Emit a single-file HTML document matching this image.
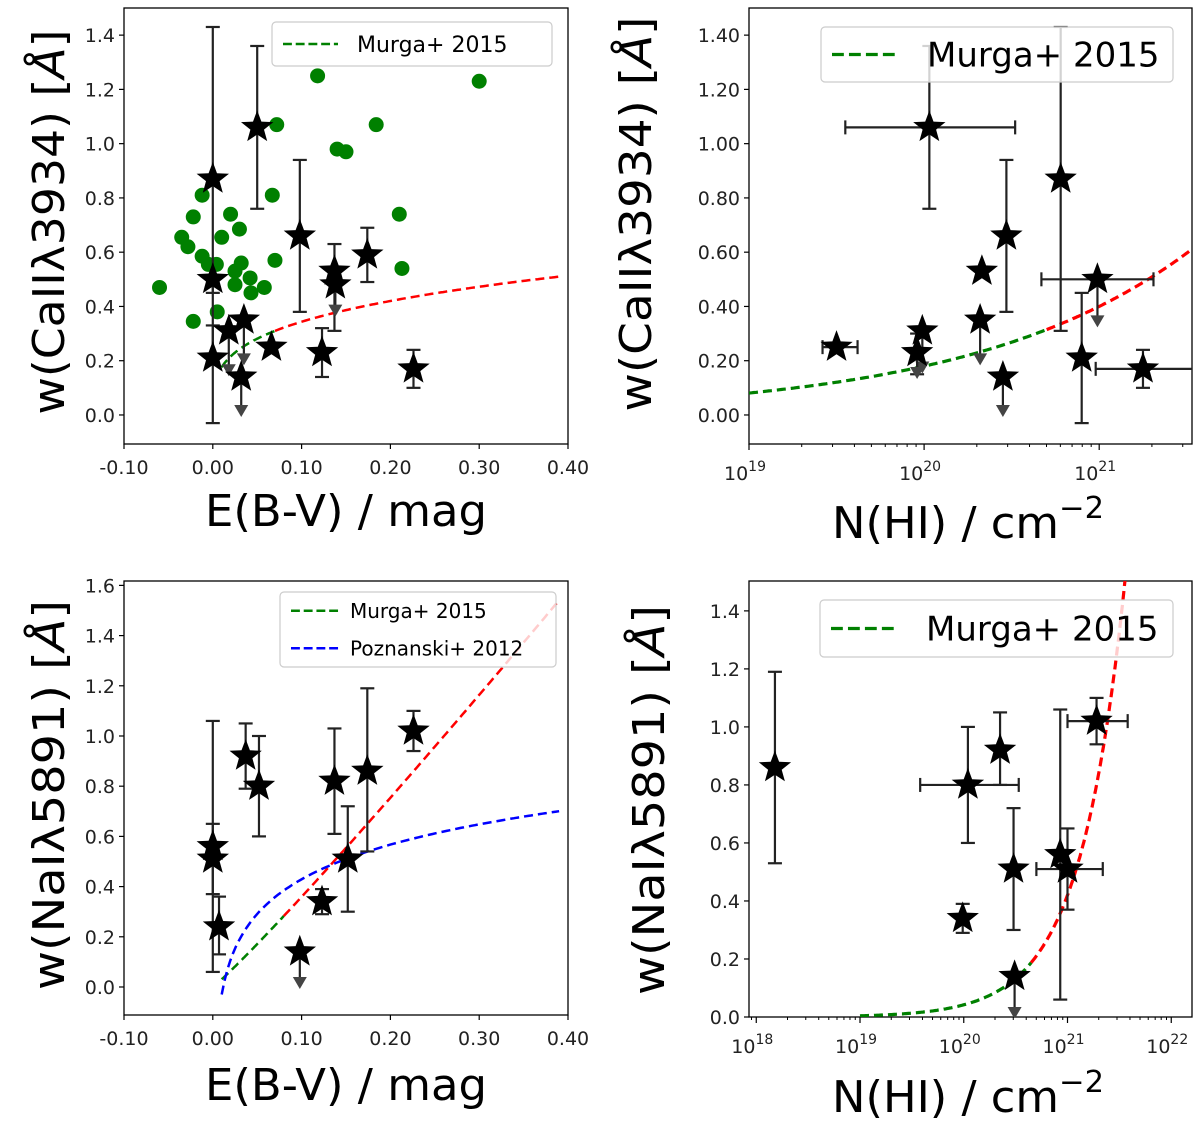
<!DOCTYPE html>
<html><head><meta charset="utf-8">
<style>
html,body{margin:0;padding:0;background:#fff;}
svg{display:block;font-family:"DejaVu Sans","Liberation Sans",sans-serif;}
</style></head>
<body>
<svg id="fig" width="1200" height="1122" viewBox="0 0 1200 1122" xmlns="http://www.w3.org/2000/svg"></svg>
<script>
// ---------- DATA ----------
// Panel A: CaII vs E(B-V)
const aStarX = [0.000,0.000,0.000,0.050,0.018,0.035,0.032,0.066,0.098,0.123,0.137,0.138,0.174,0.226];
const aStarY = [0.87,0.50,0.21,1.06,0.31,0.35,0.14,0.25,0.66,0.23,0.53,0.48,0.59,0.17];
const aErrLo = [-0.03,0.45,0.21,0.76,0.31,0.35,0.14,0.25,0.38,0.14,0.31,0.48,0.49,0.10];
const aErrHi = [1.43,0.50,0.33,1.36,0.31,0.35,0.14,0.25,0.94,0.32,0.63,0.48,0.69,0.24];
const aLimit = [0,0,0,0,1,1,1,0,0,0,0,1,0,0];
const aLimitTo = [0,0,0,0,0.15,0.19,0.00,0,0,0,0,0.37,0,0];
const aDotX = [-0.060,-0.035,-0.028,-0.022,-0.012,-0.022,-0.012,-0.005,0.004,0.005,0.010,0.020,0.030,0.025,0.032,0.025,0.042,0.043,0.058,0.067,0.070,0.072,0.118,0.140,0.150,0.184,0.210,0.213,0.300];
const aDotY = [0.47,0.655,0.62,0.73,0.81,0.345,0.585,0.555,0.555,0.38,0.655,0.74,0.685,0.53,0.56,0.48,0.505,0.45,0.47,0.81,0.57,1.07,1.25,0.98,0.97,1.07,0.74,0.54,1.23];
const aFit = [0.67,0.29]; // y = a*x^b
// Panel B: CaII vs N(HI) (log10 N)
const bStarX = [19.50,20.03,19.99,19.96,20.33,20.32,20.47,20.45,20.78,20.99,20.90,21.25];
const bStarY = [0.25,1.06,0.31,0.23,0.53,0.35,0.66,0.14,0.87,0.50,0.21,0.17];
const bErrLo = [0.25,0.76,0.31,0.15,0.53,0.35,0.38,0.14,0.31,0.50,-0.03,0.10];
const bErrHi = [0.25,1.36,0.31,0.30,0.53,0.35,0.94,0.14,1.43,0.50,0.45,0.24];
const bXLo = [19.42,19.55,19.99,19.96,20.33,20.32,20.47,20.45,20.78,20.67,20.90,20.98];
const bXHi = [19.62,20.52,19.99,19.96,20.33,20.32,20.47,20.45,20.78,21.31,20.90,21.70];
const bLimit = [0,0,1,1,0,1,0,1,0,1,0,0];
const bLimitTo = [0,0,0.16,0.14,0,0.19,0,0.00,0,0.33,0,0];
const bFit = [0.40,0.347]; // y = a*(N/1e21)^b
// Panel C: NaI vs E(B-V)
const cStarX = [0.000,0.000,0.007,0.037,0.052,0.098,0.123,0.137,0.152,0.174,0.226];
const cStarY = [0.56,0.51,0.24,0.92,0.80,0.14,0.34,0.82,0.51,0.86,1.02];
const cErrLo = [0.37,0.06,0.13,0.79,0.60,0.14,0.29,0.61,0.30,0.54,0.94];
const cErrHi = [0.65,1.06,0.36,1.05,1.00,0.14,0.39,1.03,0.72,1.19,1.10];
const cLimit = [0,0,0,0,0,1,0,0,0,0,0];
const cLimitTo = [0,0,0,0,0,0.00,0,0,0,0,0];
const cFit = [4.22,1.07]; // y = a*x^b
const cPoz = [0.888,0.459]; // y = a + b*log10(x)
// Panel D: NaI vs N(HI)
const dStarX = [18.18,20.04,20.35,19.99,20.48,20.49,20.93,21.00,21.28];
const dStarY = [0.86,0.80,0.92,0.34,0.51,0.14,0.56,0.51,1.02];
const dErrLo = [0.53,0.60,0.80,0.29,0.30,0.14,0.06,0.37,0.94];
const dErrHi = [1.19,1.00,1.05,0.39,0.72,0.14,1.06,0.65,1.10];
const dXLo = [18.18,19.58,20.35,19.99,20.48,20.49,20.93,20.70,21.00];
const dXHi = [18.18,20.53,20.35,19.99,20.48,20.49,20.93,21.34,21.58];
const dLimit = [0,0,0,0,0,1,0,0,0];
const dLimitTo = [0,0,0,0,0,0.00,0,0,0];
const dFit = [0.42]; // y = k*N/1e21
const linTicks = ["-0.10","0.00","0.10","0.20","0.30","0.40"];
const aYTicks = ["0.0","0.2","0.4","0.6","0.8","1.0","1.2","1.4"];
const bYTicks = ["0.00","0.20","0.40","0.60","0.80","1.00","1.20","1.40"];
const cYTicks = ["0.0","0.2","0.4","0.6","0.8","1.0","1.2","1.4","1.6"];
const dYTicks = ["0.0","0.2","0.4","0.6","0.8","1.0","1.2","1.4"];
const bXDecades = [19,20,21];
const dXDecades = [18,19,20,21,22];

// ---------- DRAWING ----------
const NS="http://www.w3.org/2000/svg";
const svg=document.getElementById('fig');
function mk(tag,attrs,parent){const e=document.createElementNS(NS,tag);for(const k in attrs)e.setAttribute(k,attrs[k]);(parent||svg).appendChild(e);return e;}
function clipRect(id,x0,y0,x1,y1){const d=mk('clipPath',{id:id});mk('rect',{x:x0,y:y0,width:x1-x0,height:y1-y0},d);}

function makePanel(cfg){
  const g=mk('g',{});
  
  
  const X=v=>cfg.x0+(v-cfg.xmin)/(cfg.xmax-cfg.xmin)*(cfg.x1-cfg.x0);
  const Y=v=>cfg.y1-(v-cfg.ymin)/(cfg.ymax-cfg.ymin)*(cfg.y1-cfg.y0);
  clipRect(cfg.name+'-clip',cfg.x0,cfg.y0,cfg.x1,cfg.y1);
  return {g,X,Y};
}
function axes(p,cfg,yTicks,yStep,xTicksFn){
  const {g,X,Y}=p;
  yTicks.forEach((t,i)=>{
    const v=i*yStep, y=Y(v);
    const tk=mk('line',{x1:cfg.x0-5,x2:cfg.x0,y1:y,y2:y,stroke:'#000','stroke-width':1.2},g);
    
    
    const tx=mk('text',{x:cfg.x0-9,y:y+7,'font-size':19,'text-anchor':'end',fill:'#222'},g);
    
    
    tx.textContent=t;
  });
  xTicksFn();
  const fr=mk('rect',{x:cfg.x0,y:cfg.y0,width:cfg.x1-cfg.x0,height:cfg.y1-cfg.y0,fill:'none',stroke:'#000','stroke-width':1.3},g);
  
  
  const yl=mk('text',{transform:`translate(${cfg.ylx},${cfg.yly}) rotate(-90)`,'font-size':44,'text-anchor':'middle',fill:'#000',textLength:cfg.ylLen,lengthAdjust:'spacingAndGlyphs'},g);
  
  
  yl.innerHTML=cfg.ylabel+') [<tspan font-style="italic">Å</tspan>]';
  const xl=mk('text',{x:cfg.xlx,y:cfg.xly,'font-size':44,'text-anchor':'middle',fill:'#000',textLength:cfg.xlLen,lengthAdjust:'spacingAndGlyphs'},g);
  
  
  xl.innerHTML=cfg.xlabel;
}
function linXTicks(p,cfg){
  linTicks.forEach((t,i)=>{
    const x=p.X(-0.1+0.1*i);
    const tk=mk('line',{x1:x,x2:x,y1:cfg.y1,y2:cfg.y1+5,stroke:'#000','stroke-width':1.2},p.g);
    
    
    const tx=mk('text',{x:x,y:cfg.y1+30,'font-size':19,'text-anchor':'middle',fill:'#222'},p.g);
    
    
    tx.textContent=t;
  });
}
function logXTicks(p,cfg,decs){
  const lo=Math.floor(cfg.xmin), hi=Math.ceil(cfg.xmax);
  for(let d=lo;d<hi;d++){for(let m=2;m<=9;m++){const v=d+Math.log10(m);if(v<cfg.xmin||v>cfg.xmax)continue;const x=p.X(v);
    const tk=mk('line',{x1:x,x2:x,y1:cfg.y1,y2:cfg.y1+3,stroke:'#000','stroke-width':1},p.g);
    
    }}
  decs.forEach(d=>{
    const x=p.X(d);
    const tk=mk('line',{x1:x,x2:x,y1:cfg.y1,y2:cfg.y1+6,stroke:'#000','stroke-width':1.2},p.g);
    
    
    const tx=mk('text',{x:x-4,y:cfg.y1+36,'font-size':19,'text-anchor':'middle',fill:'#222'},p.g);
    
    
    tx.innerHTML='10<tspan font-size="14" dy="-9">'+d+'</tspan>';
  });
}
function starPts(cx,cy,R){const r=R*0.42;let s=[];for(let i=0;i<10;i++){const a=-Math.PI/2+i*Math.PI/5;const rr=i%2?r:R;s.push((cx+rr*Math.cos(a)).toFixed(1)+','+(cy+rr*Math.sin(a)).toFixed(1));}return s.join(' ');}
function errLine(g,x1,y1,x2,y2,name){const l=mk('line',{x1,y1,x2,y2,stroke:'#222','stroke-width':2.2},g);}
function stars(p,sx,sy,lo,hi,lim,limTo,xlo,xhi,cfg){
  const {g,X,Y}=p;
  const eg=mk('g',{'clip-path':`url(#${cfg.name}-clip)`},g);
  sx.forEach((xv,i)=>{
    const x=X(xv);
    if(hi[i]!==lo[i]){errLine(eg,x,Y(lo[i]),x,Y(hi[i]),'y-error-bar');
      errLine(eg,x-7,Y(lo[i]),x+7,Y(lo[i]),'error-cap');errLine(eg,x-7,Y(hi[i]),x+7,Y(hi[i]),'error-cap');}
    if(xlo&&xlo[i]!==xhi[i]){const y=Y(sy[i]);errLine(eg,X(xlo[i]),y,X(xhi[i]),y,'x-error-bar');
      errLine(eg,X(xlo[i]),y-7,X(xlo[i]),y+7,'error-cap');errLine(eg,X(xhi[i]),y-7,X(xhi[i]),y+7,'error-cap');}
    if(lim[i]){const y0=Y(sy[i]),y1=Y(limTo[i]);errLine(eg,x,y0,x,y1-6,'upper-limit-line');
      const a=mk('polygon',{points:`${x-7},${y1-10} ${x+7},${y1-10} ${x},${y1+2}`,fill:'#444'},eg);
      }
  });
  sx.forEach((xv,i)=>{
    const s=mk('polygon',{points:starPts(X(xv),Y(sy[i]),17),fill:'#000'},g);
    
    
  });
}
function curve(p,cfg,f,xa,xb,color,logx,name,w){
  let pts=[];const n=120;
  for(let i=0;i<=n;i++){const v=xa+(xb-xa)*i/n;const y=f(logx?Math.pow(10,v):v);pts.push(p.X(v).toFixed(1)+','+p.Y(y).toFixed(1));}
  const pl=mk('polyline',{points:pts.join(' '),fill:'none',stroke:color,'stroke-width':w||2.5,'stroke-dasharray':'9,5','clip-path':`url(#${cfg.name}-clip)`},p.g);
  
  
}
function legend(p,x,y,w,h,items,fs,lineLen,lw,tOff){
  const lg=mk('g',{},p.g);
  
  
  mk('rect',{x,y,width:w,height:h,rx:4,fill:'#fff','fill-opacity':0.8,stroke:'#ccc','stroke-width':1.2},lg);
  items.forEach((it,i)=>{
    const cy=y+h/(items.length)*(i+0.5);
    const l=mk('line',{x1:x+11,x2:x+11+lineLen,y1:cy,y2:cy,stroke:it[1],'stroke-width':lw,'stroke-dasharray':(lw*3.7)+','+(lw*1.6)},lg);
    
    const t=mk('text',{x:x+lineLen+30+tOff,y:cy+fs*0.36,'font-size':fs,fill:'#000'},lg);
    
    t.textContent=it[0];
  });
}

// Panel A
(function(){
  const cfg={name:'panel-caii-ebv',x0:124,x1:568,y0:8,y1:444,xmin:-0.1,xmax:0.4,ymin:-0.107,ymax:1.5,
    ylabel:'w(CaII&#955;3934',ylx:64,yly:222,ylLen:385,xlabel:'E(B-V) / mag',xlx:346,xly:526,xlLen:282};
  const p=makePanel(cfg);
  axes(p,cfg,aYTicks,0.2,()=>linXTicks(p,cfg));
  const dg=mk('g',{'clip-path':`url(#${cfg.name}-clip)`},p.g);
  aDotX.forEach((xv,i)=>{const c=mk('circle',{cx:p.X(xv),cy:p.Y(aDotY[i]),r:7.5,fill:'#008000'},dg);
    });
  const f=x=>aFit[0]*Math.pow(x,aFit[1]);
  curve(p,cfg,f,0.01,0.07,'#008000',false,'murga-fit-green');
  curve(p,cfg,f,0.07,0.39,'#ff0000',false,'murga-fit-red');
  stars(p,aStarX,aStarY,aErrLo,aErrHi,aLimit,aLimitTo,null,null,cfg);
  legend(p,272,22,280,44,[['Murga+ 2015','#008000']],22,55,2.4,0);
})();
// Panel B
(function(){
  const cfg={name:'panel-caii-nhi',x0:749,x1:1192,y0:8,y1:444,xmin:19,xmax:21.53,ymin:-0.107,ymax:1.5,
    ylabel:'w(CaII&#955;3934',ylx:651,yly:214,ylLen:395,xlabel:'N(HI) / cm<tspan font-size="30" dy="-20">&#8722;2</tspan>',xlx:968,xly:538,xlLen:272};
  const p=makePanel(cfg);
  axes(p,cfg,bYTicks,0.2,()=>logXTicks(p,cfg,bXDecades));
  const f=N=>bFit[0]*Math.pow(N/1e21,bFit[1]);
  curve(p,cfg,f,19,20.7,'#008000',true,'murga-fit-green',3.2);
  curve(p,cfg,f,20.7,21.53,'#ff0000',true,'murga-fit-red',3.2);
  stars(p,bStarX,bStarY,bErrLo,bErrHi,bLimit,bLimitTo,bXLo,bXHi,cfg);
  legend(p,821,27,352,55,[['Murga+ 2015','#008000']],34,66,3.2,10);
})();
// Panel C
(function(){
  const cfg={name:'panel-nai-ebv',x0:124,x1:568,y0:581,y1:1015,xmin:-0.1,xmax:0.4,ymin:-0.1116,ymax:1.6175,
    ylabel:'w(NaI&#955;5891',ylx:64,yly:795,ylLen:390,xlabel:'E(B-V) / mag',xlx:346,xly:1100,xlLen:282};
  const p=makePanel(cfg);
  axes(p,cfg,cYTicks,0.2,()=>linXTicks(p,cfg));
  const f=x=>cFit[0]*Math.pow(x,cFit[1]);
  const fp=x=>cPoz[0]+cPoz[1]*Math.log10(x);
  curve(p,cfg,f,0.01,0.08,'#008000',false,'murga-fit-green');
  curve(p,cfg,f,0.08,0.39,'#ff0000',false,'murga-fit-red');
  curve(p,cfg,fp,0.01,0.39,'#0000ff',false,'poznanski-fit-blue');
  stars(p,cStarX,cStarY,cErrLo,cErrHi,cLimit,cLimitTo,null,null,cfg);
  legend(p,280,592,276,75,[['Murga+ 2015','#008000'],['Poznanski+ 2012','#0000ff']],20,50,2.4,-10);
})();
// Panel D
(function(){
  const cfg={name:'panel-nai-nhi',x0:749,x1:1192,y0:581,y1:1017,xmin:17.93,xmax:22.2,ymin:0,ymax:1.503,
    ylabel:'w(NaI&#955;5891',ylx:664,yly:800,ylLen:390,xlabel:'N(HI) / cm<tspan font-size="30" dy="-20">&#8722;2</tspan>',xlx:968,xly:1112,xlLen:272};
  const p=makePanel(cfg);
  axes(p,cfg,dYTicks,0.2,()=>logXTicks(p,cfg,dXDecades));
  const f=N=>dFit[0]*N/1e21;
  curve(p,cfg,f,19,20.65,'#008000',true,'murga-fit-green',3.2);
  curve(p,cfg,f,20.65,21.6,'#ff0000',true,'murga-fit-red',3.2);
  stars(p,dStarX,dStarY,dErrLo,dErrHi,dLimit,dLimitTo,dXLo,dXHi,cfg);
  legend(p,820,600,353,57,[['Murga+ 2015','#008000']],34,66,3.2,10);
})();
</script>
</body></html>
